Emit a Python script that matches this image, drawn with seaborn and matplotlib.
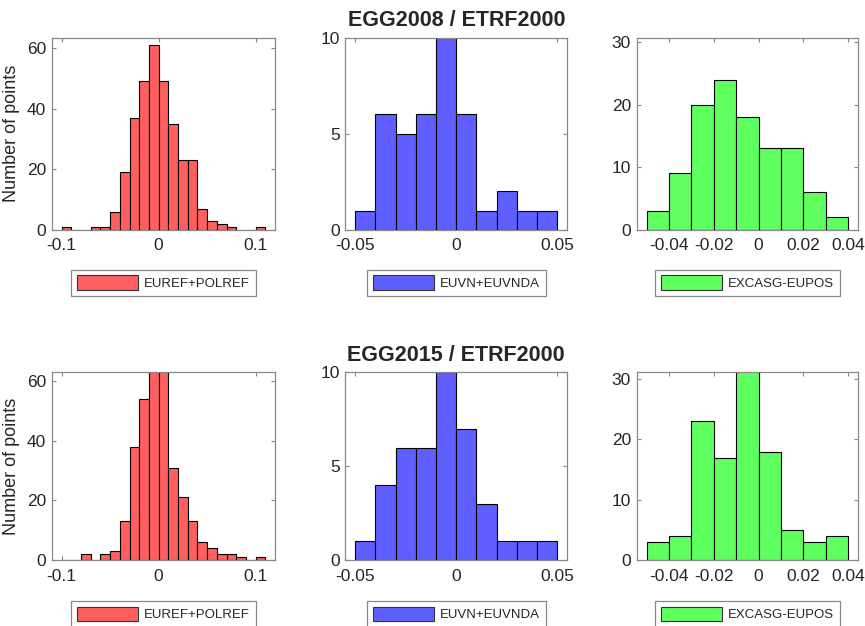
import numpy as np
import pandas as pd
import matplotlib
matplotlib.use("Agg")
import matplotlib.pyplot as plt
import seaborn as sns
from matplotlib.patches import Patch

# bin counts (bin width 0.01)
red_start = -0.10
red_2008 = [1, 0, 0, 1, 1, 6, 19, 37, 49, 61, 49, 35, 23, 23, 7, 3, 2, 1, 0, 0, 1]
red_2015 = [0, 0, 2, 0, 2, 3, 13, 38, 54, 65, 64, 31, 21, 13, 6, 4, 2, 2, 1, 0, 1]

blue_start = -0.05
blue_2008 = [1, 6, 5, 6, 10, 6, 1, 2, 1, 1]
blue_2015 = [1, 4, 6, 6, 10, 7, 3, 1, 1, 1]

green_start = -0.05
green_2008 = [3, 9, 20, 24, 18, 13, 13, 6, 2]
green_2015 = [3, 4, 23, 17, 32, 18, 5, 3, 4]

bin_width = 0.01

labels = ["EUREF+POLREF", "EUVN+EUVNDA", "EXCASG-EUPOS"]
titles = ["EGG2008 / ETRF2000", "EGG2015 / ETRF2000"]
colors = ["#ff5f5f", "#5f5fff", "#5fff5f"]

red_xticks = [-0.1, 0, 0.1]
red_xticklabels = ["-0.1", "0", "0.1"]
blue_xticks = [-0.05, 0, 0.05]
blue_xticklabels = ["-0.05", "0", "0.05"]
green_xticks = [-0.04, -0.02, 0, 0.02, 0.04]
green_xticklabels = ["-0.04", "-0.02", "0", "0.02", "0.04"]

sns.set_style("ticks")
plt.rcParams["font.family"] = ["Liberation Sans", "DejaVu Sans"]
plt.rcParams["axes.unicode_minus"] = False

fig = plt.figure(figsize=(8.65, 6.26), dpi=100)

# axes positions in figure fractions
col_left = [0.060, 0.399, 0.736]
col_width = [0.258, 0.257, 0.256]
row_bottom = [0.633, 0.105]
row_height = [0.307, 0.300]

panels = [
    [(red_start, red_2008), (blue_start, blue_2008), (green_start, green_2008)],
    [(red_start, red_2015), (blue_start, blue_2015), (green_start, green_2015)],
]
xlims = [(-0.11, 0.12), (-0.055, 0.055), (-0.0545, 0.0445)]
ylims = [[(0, 63.5), (0, 10), (0, 30.7)], [(0, 62.8), (0, 10), (0, 31.1)]]
yticks = [[0, 20, 40, 60], [0, 5, 10], [0, 10, 20, 30]]
xticks = [(red_xticks, red_xticklabels), (blue_xticks, blue_xticklabels),
          (green_xticks, green_xticklabels)]

for r in range(2):
    for c in range(3):
        ax = fig.add_axes([col_left[c], row_bottom[r], col_width[c], row_height[r]])
        start, counts = panels[r][c]
        edges = [round(start + bin_width * i, 3) for i in range(len(counts) + 1)]
        df = pd.DataFrame({"x": [e + bin_width / 2 for e in edges[:-1]], "n": counts})
        sns.histplot(data=df, x="x", weights="n", bins=edges, ax=ax,
                     color=colors[c], edgecolor="black", linewidth=0.8, alpha=1)
        ax.set_xlim(*xlims[c])
        ax.set_ylim(*ylims[r][c])
        ax.set_xticks(xticks[c][0])
        ax.set_xticklabels(xticks[c][1])
        ax.set_yticks(yticks[c])
        ax.tick_params(direction="in", top=True, right=True, length=3, pad=3,
                       labelsize=12.5, colors="#888888", labelcolor="#262626")
        ax.tick_params(axis="x", pad=6)
        ax.tick_params(axis="y", pad=4)
        for s in ax.spines.values():
            s.set_color("#888888")
            s.set_linewidth(0.9)
        ax.set_xlabel("")
        if c == 0:
            ax.set_ylabel("Number of points", fontsize=13, color="#262626", labelpad=5)
        else:
            ax.set_ylabel("")
        if c == 1:
            ax.set_title(titles[r], fontsize=15.5, fontweight="bold", pad=8)
        leg_y = -0.276 if r == 0 else -0.287
        leg = ax.legend(handles=[Patch(facecolor=colors[c], edgecolor="#333333", lw=0.8)],
                        labels=[labels[c]], loc="center", bbox_to_anchor=(0.5, leg_y),
                        fancybox=False, framealpha=1, edgecolor="#888888",
                        fontsize=9.5, handlelength=4.6, handleheight=1.3,
                        borderpad=0.45, handletextpad=0.45, borderaxespad=0)
        leg.get_frame().set_linewidth(0.9)

fig.savefig("out.png", dpi=100)
